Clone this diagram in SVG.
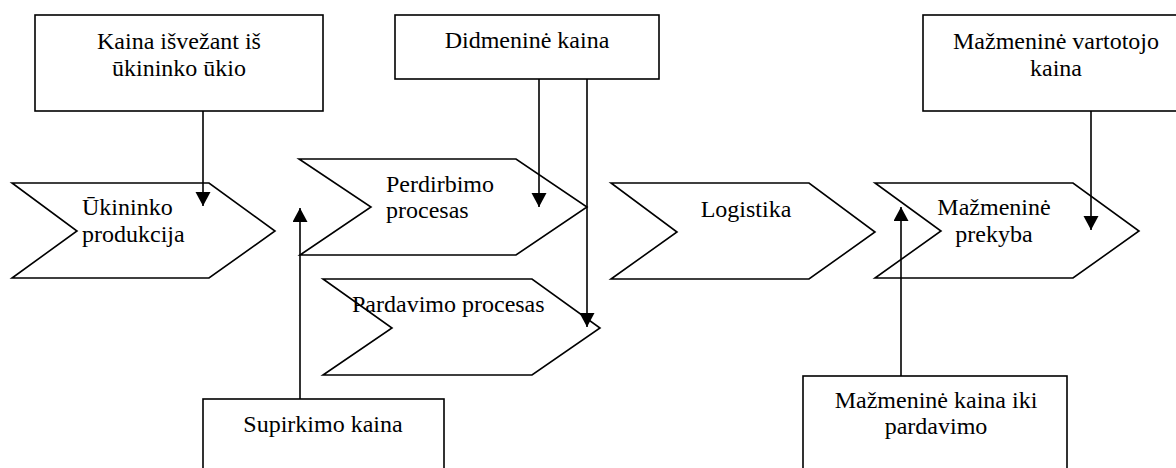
<svg xmlns="http://www.w3.org/2000/svg" width="1176" height="468" viewBox="0 0 1176 468">
<style>
.shape{fill:#fff;stroke:#000;stroke-width:1.6}
.t{font-family:"Liberation Serif","Times New Roman",serif;font-size:24px;fill:#000}
.m{text-anchor:middle}
.c{stroke:#000;stroke-width:1.6;fill:none;marker-end:url(#ah)}
</style>
<defs>
<marker id="ah" markerUnits="userSpaceOnUse" markerWidth="15" markerHeight="16" refX="14" refY="7.5" orient="auto" viewBox="0 0 15 16">
<path d="M0,0 L14,7.5 L0,15 z" fill="#000"/>
</marker>
</defs>
<rect width="1176" height="468" fill="#fff"/>
<g id="n-ukininko-produkcija">
<polygon class="shape" points="12,183 209,183 275,231 209,278 12,278 77,231"/>
<text class="t" x="82" y="215">Ūkininko</text>
<text class="t" x="82" y="242">produkcija</text>
</g>
<g id="n-perdirbimo">
<polygon class="shape" points="299,159 516,159 587,207 516,255 300,255 371,207"/>
<text class="t" x="386" y="192">Perdirbimo</text>
<text class="t" x="386" y="218">procesas</text>
</g>
<g id="n-pardavimo">
<polygon class="shape" points="323,279 532,279 600,328 532,375 323,375 392,328"/>
<text class="t" x="352" y="312">Pardavimo procesas</text>
</g>
<g id="n-logistika">
<polygon class="shape" points="611,183 809,183 875,232 809,279 611,279 677,232"/>
<text class="t m" x="746" y="217">Logistika</text>
</g>
<g id="n-mazmenine-prekyba">
<polygon class="shape" points="875,183 1073,183 1139,231 1073,278 875,278 941,231"/>
<text class="t m" x="994" y="215">Mažmeninė</text>
<text class="t m" x="994" y="242">prekyba</text>
</g>
<g id="n-kaina-isvezant">
<rect class="shape" x="35" y="15" width="288" height="96"/>
<text class="t m" x="179" y="49">Kaina išvežant iš</text>
<text class="t m" x="179" y="76">ūkininko ūkio</text>
</g>
<g id="n-didmenine">
<rect class="shape" x="395" y="15" width="264" height="64"/>
<text class="t m" x="527" y="48">Didmeninė kaina</text>
</g>
<g id="n-vartotojo">
<rect class="shape" x="923" y="15" width="270" height="96"/>
<text class="t m" x="1056" y="49">Mažmeninė vartotojo</text>
<text class="t m" x="1056" y="76">kaina</text>
</g>
<g id="n-supirkimo">
<rect class="shape" x="203" y="399" width="241" height="80"/>
<text class="t m" x="323" y="432">Supirkimo kaina</text>
</g>
<g id="n-mazmenine-iki">
<rect class="shape" x="803" y="376" width="264" height="100"/>
<text class="t m" x="936" y="408">Mažmeninė kaina iki</text>
<text class="t m" x="936" y="434">pardavimo</text>
</g>
<g id="connectors">
<line class="c" x1="203" y1="111" x2="203" y2="206"/>
<line class="c" x1="539" y1="79" x2="539" y2="207"/>
<line class="c" x1="587" y1="79" x2="587" y2="327"/>
<line class="c" x1="300" y1="399" x2="300" y2="208"/>
<line class="c" x1="1091" y1="111" x2="1091" y2="230"/>
<line class="c" x1="901" y1="376" x2="901" y2="207"/>
</g>
</svg>
